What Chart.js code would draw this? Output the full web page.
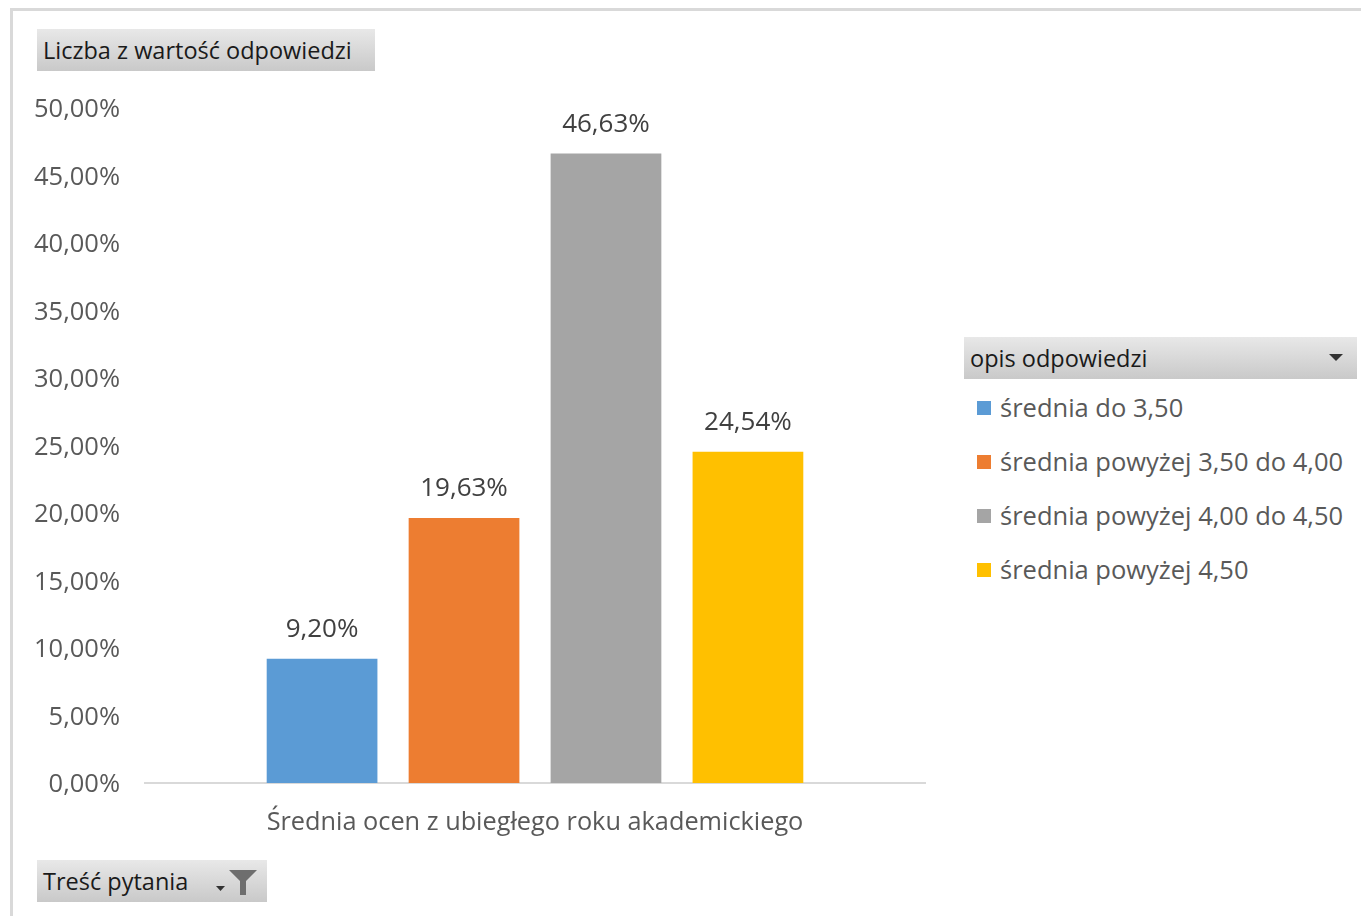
<!DOCTYPE html>
<html>
<head>
<meta charset="utf-8">
<script src="https://cdn.jsdelivr.net/npm/chart.js@4.4.1/dist/chart.umd.min.js"></script>
<style>
  html, body { margin:0; padding:0; background:#fff; width:1361px; height:916px; overflow:hidden; font-family:"Open Sans", sans-serif; }
  #frame { position:absolute; left:10px; top:8px; width:1360px; height:920px; border-left:3px solid #d9d9d9; border-top:3px solid #d9d9d9; }
  #wrap { position:absolute; left:0; top:0; width:940px; height:916px; }
  .btn { position:absolute; height:42px; background:linear-gradient(#e8e8e8, #c9c9c9); color:#1a1a1a; font-size:23.5px; line-height:42px; padding-left:6px; box-sizing:border-box; white-space:nowrap; }
  #legend { position:absolute; left:976px; top:385px; }
  .li { position:relative; height:54px; font-size:25.5px; color:#595959; white-space:nowrap; }
  .sw { position:absolute; left:1px; top:16px; width:14px; height:14px; }
  .lt { position:absolute; left:24px; top:5px; line-height:34px; }
</style>
</head>
<body>
<div id="frame"></div>
<div id="wrap"><canvas id="c" width="940" height="916"></canvas></div>
<div class="btn" style="left:37px;top:29px;width:338px;">Liczba z wartość odpowiedzi</div>
<div class="btn" style="left:964px;top:337px;width:393px;">opis odpowiedzi
  <svg style="position:absolute;left:365px;top:17px" width="14" height="8"><polygon points="0,0 14,0 7,7" fill="#333"/></svg>
</div>
<div class="btn" style="left:37px;top:860px;width:230px;">Treść pytania
  <svg style="position:absolute;left:178px;top:8px" width="44" height="28">
    <polygon points="1,18 10,18 5.5,23" fill="#333"/>
    <polygon points="14,2 42,2 31,13 31,27 25,27 25,13" fill="#6e6e6e"/>
  </svg>
</div>
<div id="legend"></div>
<script>
const categories = ['Średnia ocen z ubiegłego roku akademickiego'];
const seriesNames = ['średnia do 3,50', 'średnia powyżej 3,50 do 4,00', 'średnia powyżej 4,00 do 4,50', 'średnia powyżej 4,50'];
const seriesValues = [9.20, 19.63, 46.63, 24.54];
const seriesColors = ['#5B9BD5', '#ED7D31', '#A5A5A5', '#FFC000'];
const yTickValues = [0, 5, 10, 15, 20, 25, 30, 35, 40, 45, 50];

const fmt = v => v.toFixed(2).replace('.', ',') + '%';

const leg = document.getElementById('legend');
seriesNames.forEach((n, i) => {
  const d = document.createElement('div');
  d.className = 'li';
  d.innerHTML = '<div class="sw" style="background:' + seriesColors[i] + '"></div><div class="lt"></div>';
  d.querySelector('.lt').textContent = n;
  leg.appendChild(d);
});

const labelPlugin = {
  id: 'dl',
  afterDatasetsDraw(chart) {
    const ctx = chart.ctx;
    ctx.save();
    ctx.font = '26px "Open Sans"';
    ctx.fillStyle = '#404040';
    ctx.textAlign = 'center';
    ctx.textBaseline = 'middle';
    chart.data.datasets.forEach((ds, i) => {
      const el = chart.getDatasetMeta(i).data[0];
      ctx.fillText(fmt(ds.data[0]), el.x, el.y - 29);
    });
    ctx.restore();
  }
};

new Chart(document.getElementById('c'), {
  type: 'bar',
  data: {
    labels: categories,
    datasets: seriesNames.map((n, i) => ({
      label: n,
      data: [seriesValues[i]],
      backgroundColor: seriesColors[i],
      barPercentage: 0.78,
      categoryPercentage: 0.728
    }))
  },
  options: {
    responsive: false,
    animation: false,
    layout: { padding: { top: 108, right: 15, left: 0, bottom: 0 } },
    plugins: { legend: { display: false }, tooltip: { enabled: false } },
    scales: {
      x: {
        grid: { display: false },
        border: { display: true, color: '#d9d9d9', width: 2 },
        ticks: { color: '#595959', font: { family: 'Open Sans', size: 25.3 }, padding: 17 },
        afterFit(s) { s.height = 133; }
      },
      y: {
        min: 0, max: 50,
        afterBuildTicks(s) { s.ticks = yTickValues.map(v => ({ value: v })); },
        grid: { display: false },
        border: { display: false },
        ticks: { color: '#595959', font: { family: 'Open Sans', size: 25.5 }, padding: 17, labelOffset: 2, callback: v => fmt(v) },
        afterFit(s) { s.width = 145; }
      }
    }
  },
  plugins: [labelPlugin]
});
</script>
</body>
</html>
